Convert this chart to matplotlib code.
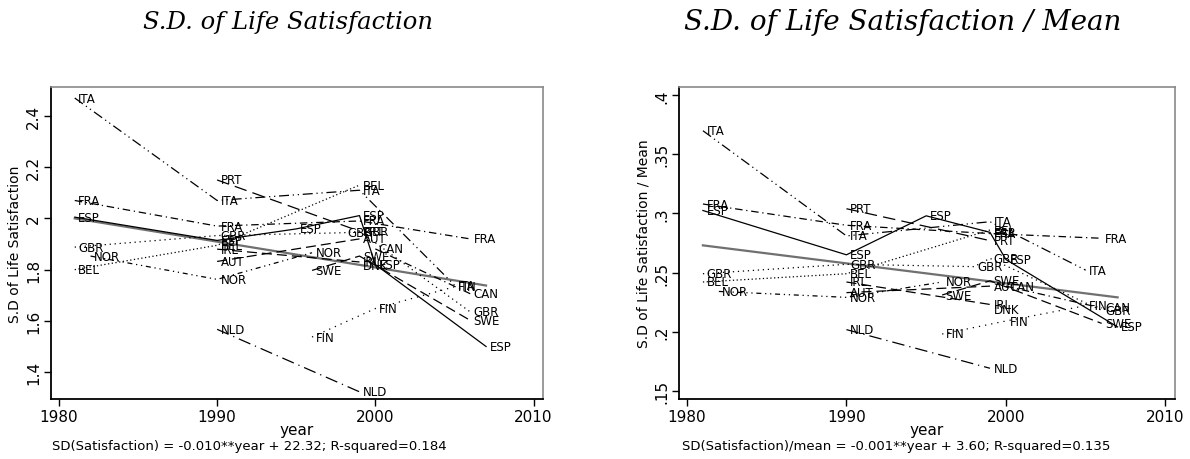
import matplotlib
matplotlib.use("Agg")
import matplotlib.pyplot as plt

# ---------------- data ----------------
# Left panel: S.D. of life satisfaction ; Right panel: S.D. / mean
ita_years = [1981, 1990, 1999, 2005]
ita_sd = [2.47, 2.07, 2.11, 1.74]
ita_ratio = [0.370, 0.281, 0.293, 0.252]

prt_years = [1990, 1999]
prt_sd = [2.15, 1.95]
prt_ratio = [0.304, 0.277]

fra_years = [1981, 1990, 1999, 2006]
fra_sd = [2.07, 1.97, 1.99, 1.92]
fra_ratio = [0.308, 0.290, 0.283, 0.279]

esp_years = [1981, 1990, 1995, 1999, 2000, 2007]
esp_sd = [2.005, 1.914, 1.959, 2.011, 1.82, 1.50]
esp_ratio = [0.3025, 0.265, 0.298, 0.284, 0.261, 0.204]

gbr_years = [1981, 1990, 1998, 1999, 2006]
gbr_sd = [1.888, 1.933, 1.944, 1.95, 1.635]
gbr_ratio = [0.249, 0.257, 0.255, 0.262, 0.218]

bel_years = [1981, 1990, 1999]
bel_sd = [1.80, 1.895, 2.13]
bel_ratio = [0.242, 0.249, 0.286]

irl_years = [1990, 1999]
irl_sd = [1.88, 1.83]
irl_ratio = [0.242, 0.223]

aut_years = [1990, 1999]
aut_sd = [1.832, 1.92]
aut_ratio = [0.233, 0.2385]

nor_years = [1982, 1990, 1996]
nor_sd = [1.853, 1.762, 1.866]
nor_ratio = [0.234, 0.229, 0.242]

swe_years = [1996, 1999, 2006]
swe_sd = [1.797, 1.853, 1.602]
swe_ratio = [0.231, 0.243, 0.207]

can_years = [2000, 2006]
can_sd = [1.881, 1.706]
can_ratio = [0.2385, 0.220]

dnk_years = [1999]
dnk_sd = [1.816]
dnk_ratio = [0.219]

fin_years = [1996, 2000, 2005]
fin_sd = [1.537, 1.648, 1.733]
fin_ratio = [0.198, 0.209, 0.222]

nld_years = [1990, 1999]
nld_sd = [1.567, 1.323]
nld_ratio = [0.2017, 0.169]

fit_years = [1981, 2007]
fit_sd = [2.00, 1.738]
fit_ratio = [0.273, 0.229]

left_yticks = [1.4, 1.6, 1.8, 2.0, 2.2, 2.4]
left_yticklabels = ["1.4", "1.6", "1.8", "2", "2.2", "2.4"]
right_yticks = [0.15, 0.20, 0.25, 0.30, 0.35, 0.40]
right_yticklabels = [".15", ".2", ".25", ".3", ".35", ".4"]
xticks = [1980, 1990, 2000, 2010]

titles = ["S.D. of Life Satisfaction", "S.D. of Life Satisfaction / Mean"]
ylabels = ["S.D of Life Satisfaction", "S.D of Life Satisfaction / Mean"]
notes = ["SD(Satisfaction) = -0.010**year + 22.32; R-squared=0.184",
         "SD(Satisfaction)/mean = -0.001**year + 3.60; R-squared=0.135"]

# ---------------- styles ----------------
countries = [
    ("ITA", ita_years, ita_sd, ita_ratio, (0, (8, 3, 1, 3, 1, 3))),
    ("PRT", prt_years, prt_sd, prt_ratio, (0, (10, 5))),
    ("FRA", fra_years, fra_sd, fra_ratio, (0, (6, 3, 1, 3))),
    ("ESP", esp_years, esp_sd, esp_ratio, "solid"),
    ("GBR", gbr_years, gbr_sd, gbr_ratio, (0, (1, 3))),
    ("BEL", bel_years, bel_sd, bel_ratio, (0, (1, 2))),
    ("IRL", irl_years, irl_sd, irl_ratio, (0, (8, 4))),
    ("AUT", aut_years, aut_sd, aut_ratio, (0, (8, 4))),
    ("NOR", nor_years, nor_sd, nor_ratio, (0, (4, 3, 1, 3, 1, 3))),
    ("SWE", swe_years, swe_sd, swe_ratio, (0, (8, 4))),
    ("CAN", can_years, can_sd, can_ratio, (0, (6, 3, 1, 3))),
    ("DNK", dnk_years, dnk_sd, dnk_ratio, "solid"),
    ("FIN", fin_years, fin_sd, fin_ratio, (0, (1, 4))),
    ("NLD", nld_years, nld_sd, nld_ratio, (0, (10, 4, 1, 4))),
]

plt.rcParams["font.family"] = ["DejaVu Sans"]

fig = plt.figure(figsize=(11.9, 4.6), dpi=100)
axL = fig.add_axes([51 / 1190, 1 - 400 / 460, 492 / 1190, 312 / 460])
axR = fig.add_axes([679 / 1190, 1 - 400 / 460, 496 / 1190, 312 / 460])

panels = [
    (axL, 1, fit_sd, left_yticks, left_yticklabels, (1.295, 2.513)),
    (axR, 2, fit_ratio, right_yticks, right_yticklabels, (0.143, 0.407)),
]

for i, (ax, idx, fit_vals, yt, ytl, ylim) in enumerate(panels):
    for c in countries:
        name, yrs = c[0], c[1]
        vals = c[idx + 1]
        ls = c[4]
        ax.plot(yrs, vals, color="black", lw=0.9, linestyle=ls, zorder=3)
        for x, y in zip(yrs, vals):
            ax.annotate(name, (x, y), xytext=(2.5, 0), textcoords="offset points",
                        va="center", ha="left", fontsize=8.5, color="black", zorder=4)
    ax.plot(fit_years, fit_vals, color="#707070", lw=1.6, zorder=2)
    ax.set_xlim(1979.5, 2010.6)
    ax.set_ylim(*ylim)
    ax.set_xticks(xticks)
    ax.set_xticklabels([str(t) for t in xticks], fontsize=11)
    ax.set_yticks(yt)
    ax.set_yticklabels(ytl, fontsize=11, rotation=90, va="center")
    ax.tick_params(direction="out", length=5, width=1, color="black", pad=2)
    for s in ["left", "bottom"]:
        ax.spines[s].set_color("black")
        ax.spines[s].set_linewidth(1.3)
    for s in ["top", "right"]:
        ax.spines[s].set_color("#8a8a8a")
        ax.spines[s].set_linewidth(1.2)
    ax.set_xlabel("year", fontsize=11, labelpad=-1)
    ax.set_ylabel(ylabels[i], fontsize=10, labelpad=3)

fig.text(288 / 1190, 1 - 22 / 460, titles[0], fontsize=17.5, style="italic",
         family="DejaVu Serif", ha="center", va="center")
fig.text(903 / 1190, 1 - 22 / 460, titles[1], fontsize=20, style="italic",
         family="DejaVu Serif", ha="center", va="center")
fig.text(52 / 1190, 1 - 447 / 460, notes[0], fontsize=9.5, ha="left", va="center")
fig.text(682 / 1190, 1 - 447 / 460, notes[1], fontsize=9.5, ha="left", va="center")

fig.savefig("out.png", dpi=100)
